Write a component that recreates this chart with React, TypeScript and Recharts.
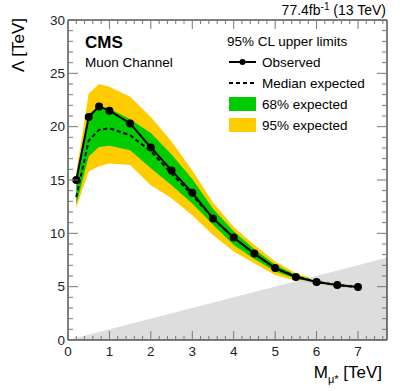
import { ComposedChart, Area, Line, XAxis, YAxis, ReferenceArea } from "recharts";

// excited muon mass points [TeV]
const masses = [0.2, 0.5, 0.75, 1.0, 1.5, 2.0, 2.5, 3.0, 3.5, 4.0, 4.5, 5.0, 5.5, 6.0, 6.5, 7.0];
const observed = [15.0, 20.9, 21.9, 21.5, 20.3, 18.05, 15.9, 13.8, 11.4, 9.6, 8.1, 6.75, 5.9, 5.44, 5.15, 4.97];
const expected = [13.4, 18.7, 19.7, 19.85, 19.2, 17.7, 15.6, 13.6, 11.4, 9.6, 8.05, 6.75, 5.95, 5.45, 5.15, 4.95];
const exp68Lo = [12.7, 17.2, 18.1, 18.2, 17.8, 16.1, 14.5, 12.8, 10.8, 8.9, 7.6, 6.45, 5.75, 5.3, 5.05, 4.85];
const exp68Hi = [15.0, 21.2, 21.9, 21.7, 20.7, 19.4, 17.4, 15.1, 12.3, 10.2, 8.5, 7.05, 6.1, 5.55, 5.25, 5.05];
const exp95Lo = [12.4, 15.8, 16.3, 16.55, 16.4, 14.5, 13.3, 11.7, 9.85, 8.3, 7.2, 6.1, 5.55, 5.2, 4.95, 4.75];
const exp95Hi = [15.7, 23.1, 24.0, 23.75, 22.8, 20.9, 18.6, 15.9, 12.9, 10.6, 8.9, 7.35, 6.25, 5.65, 5.35, 5.15];

// excluded region Lambda < M (grey triangle corners)
const exclMass = [0, 7.7];
const exclLambda = [0, 7.7];

const xMajor = [0, 1, 2, 3, 4, 5, 6, 7];
const yMajor = [0, 5, 10, 15, 20, 25, 30];
const xTicks = Array.from({ length: 39 }, (_, i) => +(i * 0.2).toFixed(1));
const yTicks = Array.from({ length: 31 }, (_, i) => i);

const W = 407;
const H = 391;
const PL = 68;
const PR = 387;
const PT = 20;
const PB = 340;
const FONT = "'Liberation Sans', Arial, sans-serif";
const TICK = "#777";
const FS = 13.5;

const data = [
  ...masses.map((m, i) => ({
    m,
    obs: observed[i],
    exp: expected[i],
    b68: [exp68Lo[i], exp68Hi[i]],
    b95: [exp95Lo[i], exp95Hi[i]],
  })),
  ...exclMass.map((m, i) => ({ m, excl: exclLambda[i] })),
].sort((a, b) => a.m - b.m);

const YTick = ({ y, payload }: any) => {
  const v = payload.value;
  const major = yMajor.includes(v);
  const len = major ? 10 : 5;
  return (
    <g>
      <line x1={PL} x2={PL + len} y1={y} y2={y} stroke={TICK} />
      <line x1={PR - len} x2={PR} y1={y} y2={y} stroke={TICK} />
      {major && (
        <text x={PL - 3} y={y} textAnchor="end" dominantBaseline="central" fontSize={FS} fill="#222" fontFamily={FONT}>
          {v}
        </text>
      )}
    </g>
  );
};

const XTick = ({ x, payload }: any) => {
  const v = payload.value;
  const major = xMajor.includes(v);
  const len = major ? 9 : 4;
  return (
    <g>
      <line x1={x} x2={x} y1={PB} y2={PB - len} stroke={TICK} />
      <line x1={x} x2={x} y1={PT} y2={PT + len} stroke={TICK} />
      {major && (
        <text x={x} y={PB + 16} textAnchor="middle" fontSize={FS} fill="#222" fontFamily={FONT}>
          {v}
        </text>
      )}
    </g>
  );
};

export default function App() {
  return (
    <div style={{ position: "absolute", left: 0, top: 0, width: W, height: H, background: "#fff" }}>
      <ComposedChart
        width={W}
        height={H}
        data={data}
        margin={{ top: PT, right: W - PR, bottom: H - PB - 30, left: PL - 40 }}
      >
        <XAxis
          dataKey="m"
          type="number"
          domain={[0, 7.7]}
          ticks={xTicks}
          interval={0}
          allowDataOverflow
          height={30}
          tickLine={false}
          axisLine={false}
          tick={<XTick />}
        />
        <YAxis
          type="number"
          domain={[0, 30]}
          ticks={yTicks}
          interval={0}
          allowDataOverflow
          width={40}
          tickLine={false}
          axisLine={false}
          tick={<YTick />}
        />
        <Area dataKey="b95" type="linear" fill="#ffcc00" fillOpacity={1} stroke="none" isAnimationActive={false} />
        <Area dataKey="b68" type="linear" fill="#00cc00" fillOpacity={1} stroke="none" isAnimationActive={false} />
        <Area
          dataKey="excl"
          type="linear"
          connectNulls
          fill="#d4d4d4"
          fillOpacity={0.8}
          stroke="none"
          isAnimationActive={false}
        />
        <Line
          dataKey="exp"
          type="linear"
          stroke="#000"
          strokeWidth={2}
          strokeDasharray="4 3"
          dot={false}
          isAnimationActive={false}
        />
        <Line
          dataKey="obs"
          type="linear"
          stroke="#000"
          strokeWidth={2}
          dot={{ r: 3, fill: "#000", stroke: "#000" }}
          isAnimationActive={false}
        />
        <ReferenceArea x1={0} x2={7.7} y1={0} y2={30} fill="none" stroke="#000" strokeWidth={1} ifOverflow="visible" />
      </ComposedChart>
      <svg width={W} height={H} style={{ position: "absolute", left: 0, top: 0, pointerEvents: "none" }} fontFamily={FONT}>
        <text x={386} y={15} textAnchor="end" fontSize={14} fill="#000">
          77.4fb<tspan fontSize={10} dy={-5}>-1</tspan>
          <tspan dy={5}> (13 TeV)</tspan>
        </text>
        <text transform="translate(24,18) rotate(-90)" textAnchor="end" fontSize={17} fill="#000">
          Λ [TeV]
        </text>
        <text x={382} y={378} textAnchor="end" fontSize={17} fill="#000">
          M<tspan fontSize={11} dy={5}>μ*</tspan>
          <tspan dy={-5}> [TeV]</tspan>
        </text>
        <text x={85} y={48} fontSize={17} fontWeight="bold" fill="#000">CMS</text>
        <text x={85} y={67} fontSize={FS} fill="#000">Muon Channel</text>
        <text x={227} y={46} fontSize={FS} fill="#000">95% CL upper limits</text>
        <line x1={229} x2={256} y1={62} y2={62} stroke="#000" strokeWidth={2} />
        <circle cx={242.5} cy={62} r={3} fill="#000" />
        <text x={262} y={67} fontSize={FS} fill="#000">Observed</text>
        <line x1={229} x2={256} y1={83} y2={83} stroke="#000" strokeWidth={2} strokeDasharray="4 3" />
        <text x={262} y={88} fontSize={FS} fill="#000">Median expected</text>
        <rect x={229} y={97} width={27} height={14} fill="#00cc00" />
        <text x={262} y={109} fontSize={FS} fill="#000">68% expected</text>
        <rect x={229} y={118} width={27} height={14} fill="#ffcc00" />
        <text x={262} y={130} fontSize={FS} fill="#000">95% expected</text>
      </svg>
    </div>
  );
}
